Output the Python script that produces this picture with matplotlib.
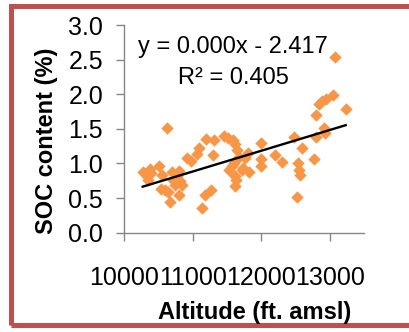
import matplotlib
matplotlib.use("Agg")
import matplotlib.pyplot as plt
from matplotlib.patches import Rectangle
import numpy as np

plt.rcParams['font.family'] = ['Liberation Sans', 'DejaVu Sans']

altitude = [10272, 10330, 10379, 10393, 10354, 10510, 10549, 10534, 10597, 10631,
            10646, 10670, 10694, 10718, 10767, 10796, 10815, 10840, 10806, 10743,
            10922, 10976, 11058, 11097, 11141, 11180, 11262, 11194, 11301, 11311,
            11456, 11519, 11592, 11616, 11641, 11534, 11568, 11602, 11616, 11631,
            11626, 11680, 11714, 11767, 11811, 11825, 11738, 12005, 12005, 12005,
            12209, 12301, 12481, 12519, 12539, 12553, 12573, 12602, 12772, 12796,
            12806, 12845, 12888, 12942, 12913, 12932, 13049, 13073, 13233]
soc = [0.871, 0.813, 0.919, 0.861, 0.766, 0.967, 0.837, 0.632, 0.612, 1.507,
       0.584, 0.445, 0.871, 0.766, 0.823, 0.885, 0.742, 0.694, 0.541, 0.694,
       1.077, 1.029, 1.134, 1.230, 0.354, 0.550, 0.612, 1.359, 1.124, 1.335,
       1.397, 1.364, 1.340, 1.282, 1.196, 0.900, 0.957, 1.005, 0.813, 0.766,
       0.670, 1.100, 0.909, 1.077, 1.148, 0.876, 0.933, 1.301, 1.062, 0.957,
       1.120, 1.014, 1.378, 0.512, 1.005, 0.909, 0.837, 1.230, 1.067, 1.694,
       1.388, 1.852, 1.900, 1.933, 1.507, 1.445, 1.990, 2.536, 1.789]

trend_slope = 0.0003
trend_intercept = -2.417
equation_text = "y = 0.000x - 2.417"
r2_text = "R² = 0.405"

x_ticks = [10000, 11000, 12000, 13000]
y_ticks = [0.0, 0.5, 1.0, 1.5, 2.0, 2.5, 3.0]

W, H = 409, 332
fig = plt.figure(figsize=(W / 100, H / 100), dpi=100)
ax = fig.add_axes([124 / W, 1 - 232.7 / H, 240 / W, 207.7 / H])

orange = '#F79646'
axis_gray = '#868686'

ax.scatter(altitude, soc, marker='D', s=40, color=orange, linewidths=0, zorder=3)

xs = np.array([min(altitude), max(altitude)])
ax.plot(xs, trend_slope * xs + trend_intercept, color='black', lw=1.7, zorder=4)

ax.set_xlim(10000, 13500)
ax.set_ylim(0, 3.0)
ax.set_xticks(x_ticks)
ax.set_xticklabels([str(t) for t in x_ticks])
ax.set_yticks(y_ticks)
ax.set_yticklabels([f"{t:.1f}" for t in y_ticks])

for s in ['top', 'right']:
    ax.spines[s].set_visible(False)
for s in ['left', 'bottom']:
    ax.spines[s].set_color(axis_gray)
    ax.spines[s].set_linewidth(1.0)

ax.tick_params(axis='both', colors=axis_gray, labelcolor='black', labelsize=18,
               width=1.0, length=6)
ax.tick_params(axis='x', pad=18)
ax.tick_params(axis='y', pad=9)

fig.text(255 / W, 1 - 312 / H, "Altitude (ft. amsl)", fontsize=17,
         fontweight='bold', ha='center', va='center')
fig.text(47 / W, 1 - 141 / H, "SOC content (%)", fontsize=17,
         fontweight='bold', ha='center', va='center', rotation=90)

fig.text(233 / W, 1 - 47 / H, equation_text, fontsize=17, ha='center', va='center')
fig.text(233 / W, 1 - 78 / H, r2_text, fontsize=17, ha='center', va='center')

border = Rectangle((10.5 / W, 1 - 324.5 / H), 1.2, (324.5 - 5.5) / H,
                   transform=fig.transFigure, fill=False, edgecolor='#C0504D',
                   linewidth=3.6, clip_on=False)
fig.add_artist(border)

fig.savefig("out.png", dpi=100)
